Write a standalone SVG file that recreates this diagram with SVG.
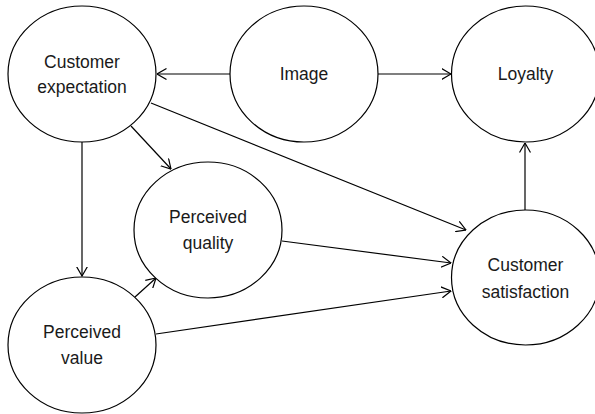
<svg xmlns="http://www.w3.org/2000/svg" width="595" height="414" viewBox="0 0 595 414">
<style>
.node ellipse{fill:#fff;stroke:#000;stroke-width:1.2}
.node text{font-family:"Liberation Sans",Arial,sans-serif;font-size:17.5px;fill:#1a1a1a;text-anchor:middle}
.edges line{stroke:#000;stroke-width:1.2;fill:none;marker-end:url(#arr)}
</style>
<defs>
<marker id="arr" viewBox="0 0 10 12" refX="9.5" refY="6" markerWidth="10" markerHeight="12" markerUnits="userSpaceOnUse" orient="auto">
<path d="M0,0.5 L9.5,6 L0,11.5" fill="none" stroke="#000" stroke-width="1.2"/>
</marker>
</defs>
<rect width="595" height="414" fill="#fff"/>
<g class="edges">
<line x1="230" y1="74" x2="157" y2="74"/>
<line x1="378" y1="74" x2="451" y2="74"/>
<line x1="525" y1="210" x2="525" y2="143"/>
<line x1="82" y1="142" x2="82" y2="276"/>
<line x1="131" y1="126" x2="171" y2="169"/>
<line x1="135" y1="297" x2="156" y2="278"/>
<line x1="151" y1="103" x2="466" y2="230"/>
<line x1="282" y1="241" x2="451" y2="263"/>
<line x1="156" y1="334" x2="451" y2="291"/>
</g>
<g id="customer-expectation" class="node">
<ellipse cx="82" cy="74" rx="74" ry="68"/>
<text x="82" y="67.5">Customer</text>
<text x="82" y="92.5">expectation</text>
</g>
<g id="image" class="node">
<ellipse cx="304" cy="74" rx="74" ry="68"/>
<text x="304" y="80">Image</text>
</g>
<g id="loyalty" class="node">
<ellipse cx="525.5" cy="74" rx="74" ry="68"/>
<text x="525.5" y="80">Loyalty</text>
</g>
<g id="perceived-quality" class="node">
<ellipse cx="208" cy="230" rx="74" ry="68"/>
<text x="208" y="222.5">Perceived</text>
<text x="208" y="249">quality</text>
</g>
<g id="customer-satisfaction" class="node">
<ellipse cx="525.5" cy="277.5" rx="74" ry="67.5"/>
<text x="525.5" y="271">Customer</text>
<text x="525.5" y="297.5">satisfaction</text>
</g>
<g id="perceived-value" class="node">
<ellipse cx="82" cy="345" rx="74" ry="68"/>
<text x="82" y="337.5">Perceived</text>
<text x="82" y="364">value</text>
</g>
</svg>
